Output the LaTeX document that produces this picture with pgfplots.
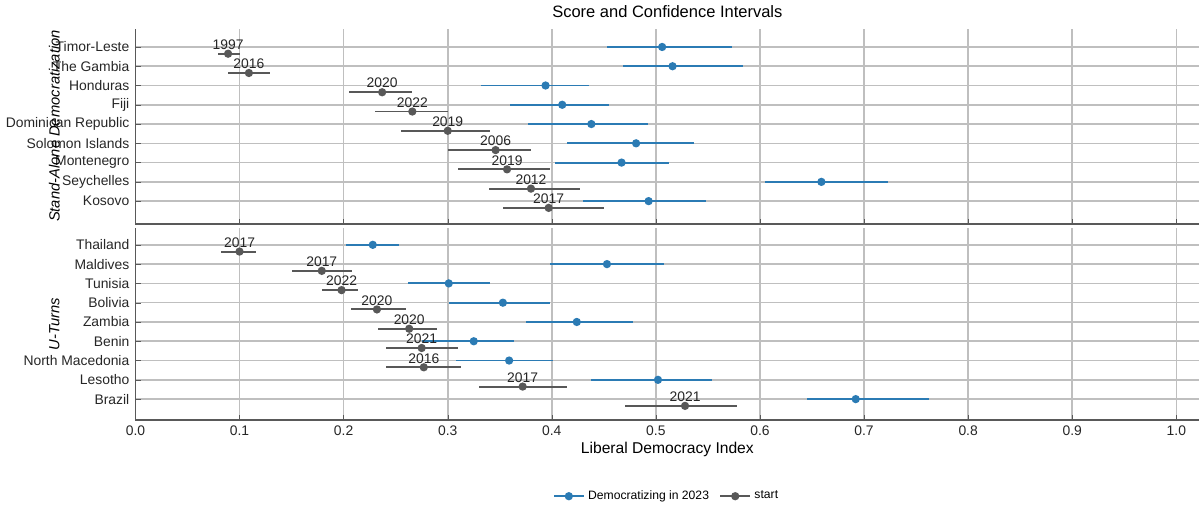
\documentclass[border=0pt]{standalone}
\usepackage{pgfplots}
\pgfplotsset{compat=1.18}
\usepackage{pgfplotstable}
\usepackage{fontspec}
\setmainfont{Liberation Sans}
\definecolor{cblue}{HTML}{2B7BB4}
\definecolor{cgray}{HTML}{585858}
\pgfplotstableread{
x y ep em
0.506 9 0.067 0.053
0.516 8 0.068 0.048
0.394 7 0.042 0.062
0.410 6 0.045 0.050
0.438 5 0.054 0.061
0.481 4 0.056 0.066
0.467 3 0.046 0.064
0.659 2 0.064 0.054
0.493 1 0.055 0.063
}\topblue
\pgfplotstableread{
x y ep em lab
0.089 8.65 0.011 0.010 1997
0.109 7.65 0.020 0.020 2016
0.237 6.65 0.029 0.032 2020
0.266 5.65 0.034 0.036 2022
0.300 4.65 0.041 0.045 2019
0.346 3.65 0.034 0.046 2006
0.357 2.65 0.041 0.047 2019
0.380 1.65 0.047 0.040 2012
0.397 0.65 0.053 0.044 2017
}\topgray
\pgfplotstableread{
x y ep em
0.228 9 0.025 0.026
0.453 8 0.055 0.055
0.301 7 0.040 0.039
0.353 6 0.045 0.052
0.424 5 0.054 0.049
0.325 4 0.039 0.050
0.359 3 0.042 0.051
0.502 2 0.052 0.064
0.692 1 0.070 0.047
}\botblue
\pgfplotstableread{
x y ep em lab
0.100 8.65 0.016 0.018 2017
0.179 7.65 0.029 0.029 2017
0.198 6.65 0.016 0.019 2022
0.232 5.65 0.028 0.025 2020
0.263 4.65 0.027 0.030 2020
0.275 3.65 0.035 0.034 2021
0.277 2.65 0.036 0.036 2016
0.372 1.65 0.043 0.042 2017
0.528 0.65 0.050 0.058 2021
}\botgray
\pgfplotsset{
 panel/.style={scale only axis, width=612.6pt, xmin=0, xmax=1.022,
  axis x line*=bottom, axis y line*=left, axis line style={-, color=black!65, line width=0.8pt},
  xtick={0,0.1,...,1.0}, ytick={1,...,9},
  grid=major, major grid style={color=black!25, line width=0.9pt},
  tick style={color=black!65}, major tick length=3pt,
  tick label style={font=\fontsize{8}{9}\selectfont, color=black!85},
  /pgf/number format/assume math mode=true,
  xticklabel style={/pgf/number format/.cd, fixed, fixed zerofill, precision=1},
  clip=false},
 bl/.style={only marks, color=cblue, mark=*, mark size=1.8pt, line width=1.1pt,
  error bars/.cd, x dir=both, x explicit, error mark=none,
  error bar style={line width=1.1pt, color=cblue}},
 gr/.style={only marks, color=cgray, mark=*, mark size=1.8pt, line width=1.1pt,
  nodes near coords, point meta=explicit symbolic,
  every node near coord/.append style={font=\fontsize{8}{9}\selectfont, color=black!85, anchor=south, yshift=-1.5pt},
  error bars/.cd, x dir=both, x explicit, error mark=none,
  error bar style={line width=1.1pt, color=cgray}},
}
\begin{document}
\begin{tikzpicture}
\begin{axis}[panel, at={(95.4pt,0pt)}, anchor=south west, height=112.2pt,
  ymin=-0.19, ymax=9.92, xticklabels={},
  yticklabels={Kosovo,Seychelles,Montenegro,Solomon Islands,Dominican Republic,Fiji,Honduras,The Gambia,Timor-Leste},
  title={Score and Confidence Intervals}, title style={font=\fontsize{9.5}{11}\selectfont, yshift=-3pt}]
\addplot[bl] table[x=x,y=y,x error plus=ep,x error minus=em]{\topblue};
\addplot[gr] table[x=x,y=y,x error plus=ep,x error minus=em,meta=lab]{\topgray};
\node[rotate=90, font=\fontsize{8.5}{10}\selectfont\itshape] at (axis cs:-0.078,4.9) {Stand-Alone Democratization};
\end{axis}
\begin{axis}[panel, at={(95.4pt,-2.4pt)}, anchor=north west, height=110.4pt,
  ymin=-0.08, ymax=9.86,
  yticklabels={Brazil,Lesotho,North Macedonia,Benin,Zambia,Bolivia,Tunisia,Maldives,Thailand},
  xlabel={Liberal Democracy Index}, xlabel style={font=\fontsize{9}{10}\selectfont, yshift=3pt},
  legend style={at={(0.5,-0.33)}, anchor=north, legend columns=2, draw=none,
   font=\fontsize{7}{8}\selectfont, /tikz/every even column/.append style={column sep=4pt}}]
\addplot[forget plot, bl] table[x=x,y=y,x error plus=ep,x error minus=em]{\botblue};
\addplot[forget plot, gr] table[x=x,y=y,x error plus=ep,x error minus=em,meta=lab]{\botgray};
\addlegendimage{color=cblue, mark=*, mark size=1.8pt, line width=1.1pt}
\addlegendentry{Democratizing in 2023}
\addlegendimage{color=cgray, mark=*, mark size=1.8pt, line width=1.1pt}
\addlegendentry{start}
\node[rotate=90, font=\fontsize{8.5}{10}\selectfont\itshape] at (axis cs:-0.078,4.9) {U-Turns};
\end{axis}
\end{tikzpicture}
\end{document}
